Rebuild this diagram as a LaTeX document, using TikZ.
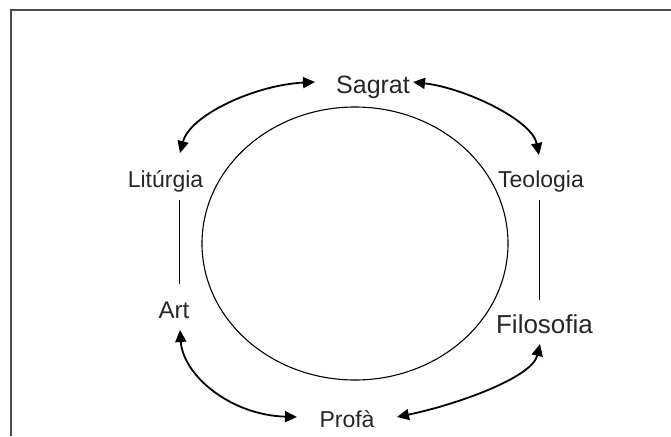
\documentclass[tikz,border=0pt]{standalone}
\usepackage{fontspec}
\setmainfont{Liberation Sans}
\usetikzlibrary{arrows.meta,shapes.geometric}
\begin{document}
\begin{tikzpicture}[x=1pt,y=-1pt,
  lbl/.style={anchor=base, inner sep=0pt, text=black!85},
  fs/.style={font=\fontsize{#1}{#1}\selectfont},
  conn/.style={line width=1.8pt, {Triangle[length=12pt,width=11pt]}-{Triangle[length=12pt,width=11pt]}},
  tie/.style={line width=0.9pt},
  frame/.style={draw=black!70, line width=1.4pt},
]
\useasboundingbox (0,0) rectangle (671,436);
% frame (only top and left edges visible)
\draw[frame] (11,436) -- (11,10) -- (671,10);

% central ellipse
\node[draw, line width=1.1pt, ellipse, minimum width=306pt, minimum height=273pt, inner sep=0pt] (core) at (355,243.5) {};

% labels
\node[lbl, fs=25] (sagrat) at (373,93) {Sagrat};
\node[lbl, fs=23] (lit) at (165.5,187) {Litúrgia};
\node[lbl, fs=23] (teo) at (541,187) {Teologia};
\node[lbl, fs=24] (art) at (174,318) {Art};
\node[lbl, fs=26] (filo) at (544.5,333) {Filosofia};
\node[lbl, fs=23] (profa) at (347,427) {Profà};

% connector end points
\coordinate (litTip) at (180,153);
\coordinate (sagL) at (315,82);
\coordinate (sagR) at (413,82);
\coordinate (teoTip) at (539,155);
\coordinate (artTip) at (180,330);
\coordinate (proL) at (297,417);
\coordinate (proR) at (397,417);
\coordinate (filoTip) at (540,344);
\coordinate (litLow) at (179,200);
\coordinate (artHigh) at (179,284);
\coordinate (teoLow) at (539,200);
\coordinate (filoHigh) at (539,300);

% curved double arrows
\draw[conn] (litTip) .. controls (190,115) and (255,85) .. (sagL);
\draw[conn] (sagR) .. controls (465,88) and (532,120) .. (teoTip);
\draw[conn] (artTip) .. controls (183,375) and (230,415) .. (proL);
\draw[conn] (proR) .. controls (455,405) and (532,378) .. (filoTip);

% straight ties
\draw[tie] (litLow) -- (artHigh);
\draw[tie] (teoLow) -- (filoHigh);
\end{tikzpicture}
\end{document}
